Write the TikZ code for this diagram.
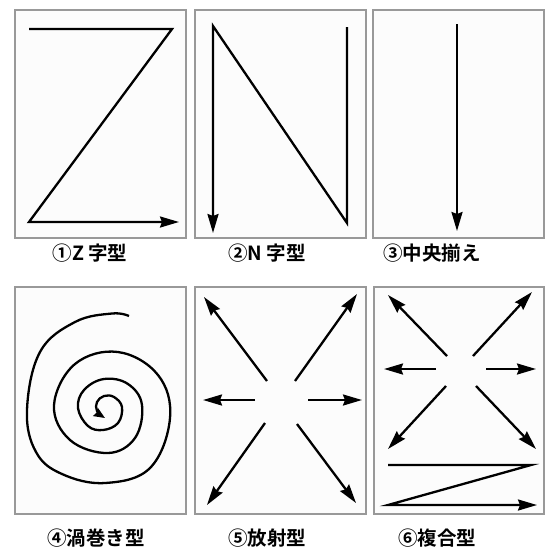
\documentclass[tikz,border=0pt]{standalone}
\usepackage{fontspec}
\newfontfamily\jpfont{Noto Sans CJK JP}[BoldFont={* Bold}]
\usetikzlibrary{arrows.meta}
\tikzset{
  panel/.style={draw=black!40, line width=1.2pt, fill=black!1, inner sep=0pt},
  stroke/.style={line width=2.3pt, line join=miter},
  arr/.style={stroke, -{Stealth[length=19pt,width=11pt,inset=2pt]}},
  sarr/.style={stroke, -{Stealth[length=11pt,width=9pt,inset=1pt]}},
  lbl/.style={font=\jpfont\bfseries\fontsize{19.5}{20}\selectfont, inner sep=0pt}
}
\begin{document}
\begin{tikzpicture}[x=1pt,y=-1pt]
\useasboundingbox (0,0) rectangle (548,547);
\fill[white] (0,0) rectangle (548,547);
% panels
\draw[panel] (15,10) rectangle (186,238);
\draw[panel] (195,10) rectangle (366,238);
\draw[panel] (373,10) rectangle (544,238);
\draw[panel] (15,287) rectangle (186,514);
\draw[panel] (195,287) rectangle (366,514);
\draw[panel] (374,287) rectangle (544,514);
% labels
\node[lbl] (l1) at (90,253) {①Z 字型};
\node[lbl] (l2) at (267,253) {②N 字型};
\node[lbl] (l3) at (432,253) {③中央揃え};
\node[lbl] (l4) at (96,538) {④渦巻き型};
\node[lbl] (l5) at (267,538) {⑤放射型};
\node[lbl] (l6) at (437,538) {⑥複合型};
% 1 Z
\draw[arr] (29,29) -- (172,29) -- (29,222) -- (179,222);
% 2 N
\draw[arr] (347,27) -- (347,223) -- (213,26) -- (213,233);
% 3 center
\draw[arr] (457,24) -- (457,231);
% 4 spiral
\draw[sarr] plot[smooth, tension=0.65] coordinates {
 (129,316) (112,313.5) (75,322) (40,352) (27,410) (36,452) (62,474) (105,483)
 (150,468) (170,418) (158,375) (118,352) (75,364) (54,405) (70,440) (108,453)
 (135,438) (142,405) (128,384) (104,379) (84,390) (78,408) (88,426) (103,430)
 (118,423) (122,407) (114,397) (104,396) (97,402) (97,411) (105,418)};
% 5 radial
\draw[arr] (267,381) -- (204,297);
\draw[arr] (255,400) -- (203,400);
\draw[arr] (265,423) -- (207,505);
\draw[arr] (295,381) -- (357,294);
\draw[arr] (308,400) -- (362,400);
\draw[arr] (297,424) -- (356,503);
% 6 compound
\draw[arr] (447,356) -- (388,295);
\draw[arr] (473,356) -- (532,292);
\draw[arr] (436,369) -- (384,369);
\draw[arr] (486,369) -- (536,369);
\draw[arr] (446,386) -- (388,449);
\draw[arr] (476,386) -- (536,449);
\draw[arr] (388,465) -- (531,465) -- (388,505) -- (537,505);
\end{tikzpicture}
\end{document}
